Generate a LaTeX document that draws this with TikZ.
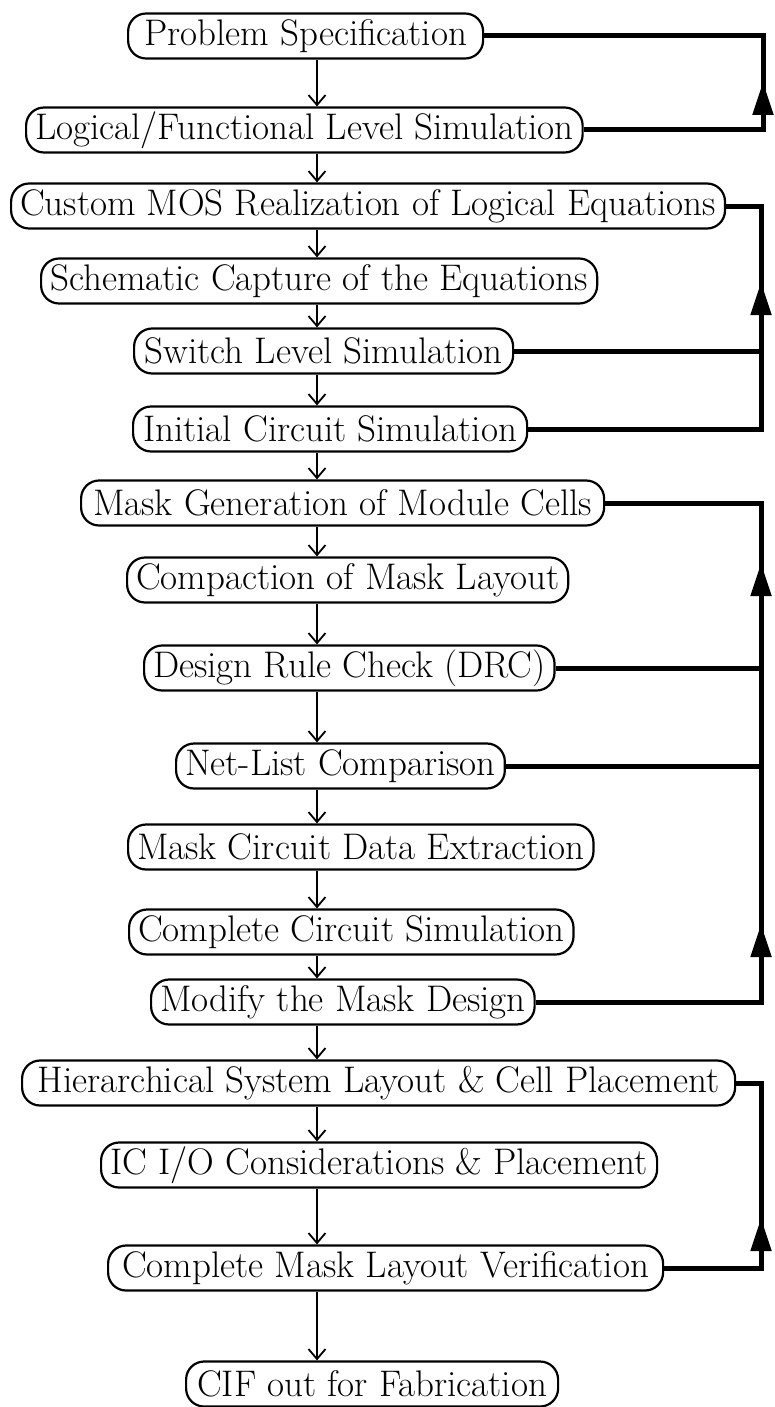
\documentclass[tikz,border=0pt]{standalone}
\usetikzlibrary{arrows.meta}
\begin{document}
\begin{tikzpicture}[x=1pt,y=-1pt,
  stage/.style={draw, line width=2.2pt, rounded corners=18pt, minimum height=45pt,
    inner xsep=9pt, inner ysep=0pt, anchor=west, font=\fontsize{37}{42}\selectfont},
  flow/.style={line width=1.8pt, -{Straight Barb[length=10pt,width=17pt,line width=1.8pt]}},
  fb/.style={line width=5pt},
  up/.style={line width=5pt, -{Triangle[length=33pt,width=20pt]}}]
\useasboundingbox (0,0) rectangle (774,1407);

% design stages (placed by their left edge)
\node[stage, minimum width=355pt] (n1)  at (127,36)   {Problem Specification};
\node[stage, minimum width=553pt] (n2)  at (25,130)   {Logical/Functional Level Simulation};
\node[stage, minimum width=703pt] (n3)  at (10,206)   {Custom MOS Realization of Logical Equations};
\node[stage] (n4)  at (40,281)   {Schematic Capture of the Equations};
\node[stage, minimum width=379pt] (n5)  at (133,351)  {Switch Level Simulation};
\node[stage, minimum width=394pt] (n6)  at (132,429)  {Initial Circuit Simulation};
\node[stage, minimum width=523pt] (n7)  at (80,503)   {Mask Generation of Module Cells};
\node[stage] (n8)  at (126,580)  {Compaction of Mask Layout};
\node[stage] (n9)  at (143,668)  {Design Rule Check (DRC)};
\node[stage] (n10) at (175,766)  {Net-List Comparison};
\node[stage] (n11) at (127,847)  {Mask Circuit Data Extraction};
\node[stage] (n12) at (128,932)  {Complete Circuit Simulation};
\node[stage] (n13) at (150,1002) {Modify the Mask Design};
\node[stage, minimum width=713pt] (n14) at (21,1083)  {Hierarchical System Layout \& Cell Placement};
\node[stage, minimum width=556pt] (n15) at (100,1165) {IC I/O Considerations \& Placement};
\node[stage, minimum width=555pt] (n16) at (107,1268) {Complete Mask Layout Verification};
\node[stage, minimum width=372pt] (n17) at (185,1384) {CIF out for Fabrication};

% main downward flow
\coordinate (ax) at (317,0);
\foreach \a/\b in {n1/n2,n2/n3,n3/n4,n4/n5,n5/n6,n6/n7,n7/n8,n8/n9,n9/n10,
                   n10/n11,n11/n12,n12/n13,n13/n14,n14/n15,n15/n16,n16/n17}
  \draw[flow] (\a.south -| ax) -- (\b.north -| ax);

% feedback loops on the right
\coordinate (r1) at (763,0);
\coordinate (r2) at (761,0);

\draw[fb] (n2.east) -- (n2.east -| r1) -- (n1.east -| r1) -- (n1.east);
\coordinate (t1) at (763,82);
\draw[up] (t1 |- n2.east) -- (t1);

\draw[fb] (n6.east) -- (n6.east -| r2) -- (n3.east -| r2) -- (n3.east);
\draw[fb] (n5.east) -- (n5.east -| r2);
\coordinate (t2) at (761,282);
\draw[up] (t2 |- n5.east) -- (t2);

\draw[fb] (n13.east) -- (n13.east -| r2) -- (n7.east -| r2) -- (n7.east);
\draw[fb] (n9.east) -- (n9.east -| r2);
\draw[fb] (n10.east) -- (n10.east -| r2);
\coordinate (t3) at (761,563);
\draw[up] (t3 |- n9.east) -- (t3);
\coordinate (t4) at (761,924);
\draw[up] (t4 |- n13.east) -- (t4);

\draw[fb] (n16.east) -- (n16.east -| r2) -- (n14.east -| r2) -- (n14.east);
\coordinate (t5) at (761,1218);
\draw[up] (t5 |- n16.east) -- (t5);
\end{tikzpicture}
\end{document}
